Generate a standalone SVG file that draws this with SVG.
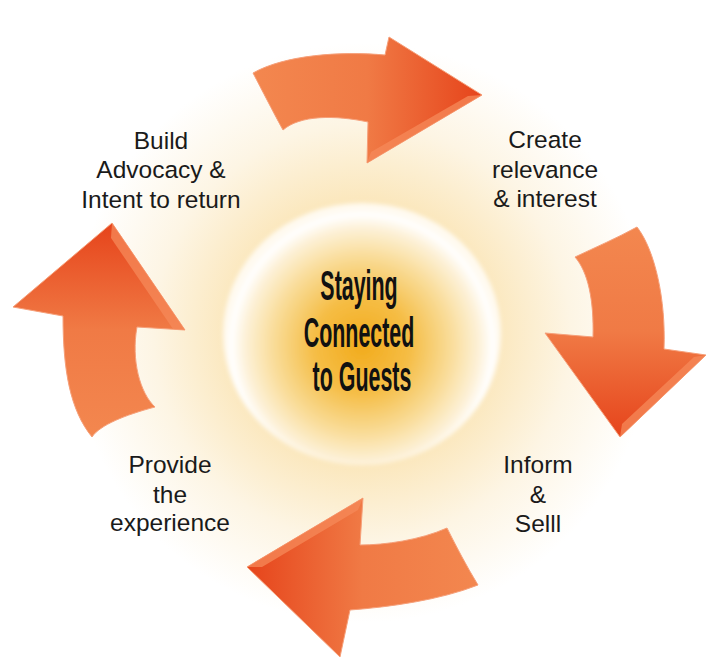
<svg xmlns="http://www.w3.org/2000/svg" width="708" height="660" viewBox="0 0 708 660">
  <defs>
    <radialGradient id="glow" cx="362" cy="333" r="290" gradientUnits="userSpaceOnUse">
      <stop offset="0" stop-color="#f9dc9a"/>
      <stop offset="0.45" stop-color="#fbe7bc"/>
      <stop offset="0.72" stop-color="#fdf5e4"/>
      <stop offset="1" stop-color="#ffffff"/>
    </radialGradient>
    <radialGradient id="core" cx="362" cy="345" r="136" gradientUnits="userSpaceOnUse">
      <stop offset="0" stop-color="#f2ab1c"/>
      <stop offset="0.35" stop-color="#f5bd45"/>
      <stop offset="0.65" stop-color="#f9dc98"/>
      <stop offset="0.86" stop-color="#fdf1d8"/>
      <stop offset="0.96" stop-color="#ffffff"/>
      <stop offset="1" stop-color="#fffaf0"/>
    </radialGradient>
    <filter id="soft" x="-10%" y="-10%" width="120%" height="120%">
      <feGaussianBlur stdDeviation="2"/>
    </filter>
    <linearGradient id="gRight" x1="0" y1="0" x2="1" y2="0">
      <stop offset="0" stop-color="#f3874f"/>
      <stop offset="0.5" stop-color="#f07a45"/>
      <stop offset="1" stop-color="#e6441b"/>
    </linearGradient>
    <linearGradient id="gDown" x1="0" y1="0" x2="0" y2="1">
      <stop offset="0" stop-color="#f3874f"/>
      <stop offset="0.5" stop-color="#f07a45"/>
      <stop offset="1" stop-color="#e6441b"/>
    </linearGradient>
    <linearGradient id="gLeft" x1="1" y1="0" x2="0" y2="0">
      <stop offset="0" stop-color="#f3874f"/>
      <stop offset="0.5" stop-color="#f07a45"/>
      <stop offset="1" stop-color="#e6441b"/>
    </linearGradient>
    <linearGradient id="gUp" x1="0" y1="1" x2="0" y2="0">
      <stop offset="0" stop-color="#f3874f"/>
      <stop offset="0.5" stop-color="#f07a45"/>
      <stop offset="1" stop-color="#e6441b"/>
    </linearGradient>
    <style>
      .arrow { stroke: #f6a07a; stroke-width: 1; stroke-linejoin: round; }
      .bevel { fill: #f58a5a; opacity: 0.75; }
      .label { font-family: "Liberation Sans", Arial, sans-serif; font-size: 24.5px; fill: #1a1a1a; text-anchor: middle; }
      .hub { font-family: "Liberation Sans", Arial, sans-serif; font-weight: bold; font-size: 34px; fill: #111111; text-anchor: middle; }
    </style>
  </defs>

  <!-- warm halo behind everything -->
  <rect width="708" height="660" fill="url(#glow)"/>

  <!-- central hub -->
  <g id="hub">
    <ellipse cx="362" cy="334" rx="139" ry="131" fill="url(#core)" filter="url(#soft)"/>
    <!-- narrow, tall lettering: squeeze horizontally, stretch vertically -->
    <text class="hub" transform="translate(362,0) scale(0.63,1.25)">
      <tspan x="0" y="240">Staying</tspan>
      <tspan x="0" y="277.6">Connected</tspan>
      <tspan x="0" y="313">to Guests</tspan>
    </text>
  </g>

  <!-- cycle arrows -->
  <g id="connectors">
    <g id="arrow-top">
      <path class="arrow" fill="url(#gRight)" d="M253,73 C285,55 340,51 385,55 L389,37 L482,95 L367,163 L368,122 C335,115 300,115 283,130 C272,110 262,90 253,73 Z"/>
      <path class="bevel" d="M482,95 L367,163 L371,152 L468,96 Z"/>
    </g>
    <g id="arrow-right">
      <path class="arrow" fill="url(#gDown)" d="M575,257 C596,247 617,238 637,227 C655,250 666,300 664,349 L706,355 L620,437 L545,333 L593,337 C594,300 588,272 575,257 Z"/>
      <path class="bevel" d="M706,355 L620,437 L622,424 L694,357 Z"/>
    </g>
    <g id="arrow-bottom">
      <path class="arrow" fill="url(#gLeft)" d="M447,528 C420,540 385,545 360,545 L363,498 L247,567 L340,657 L350,610 C390,607 440,600 478,585 C467,567 456,546 447,528 Z"/>
      <path class="bevel" d="M363,498 L247,567 L262,567 L358,510 Z"/>
    </g>
    <g id="arrow-left">
      <path class="arrow" fill="url(#gUp)" d="M155,407 C125,415 100,425 92,437 C70,410 63,370 63,316 L13,307 L112,223 L185,330 L137,327 C131,360 140,393 155,407 Z"/>
      <path class="bevel" d="M112,223 L185,330 L173,329 L111,238 Z"/>
    </g>
  </g>

  <!-- stage labels -->
  <g id="stage-advocacy">
    <text class="label"><tspan x="161" y="149">Build</tspan><tspan x="161" y="178">Advocacy &amp;</tspan><tspan x="161" y="208">Intent to return</tspan></text>
  </g>
  <g id="stage-relevance">
    <text class="label"><tspan x="545" y="148">Create</tspan><tspan x="545" y="178">relevance</tspan><tspan x="545" y="207">&amp; interest</tspan></text>
  </g>
  <g id="stage-inform">
    <text class="label"><tspan x="538" y="473">Inform</tspan><tspan x="538" y="503">&amp;</tspan><tspan x="538" y="532">Selll</tspan></text>
  </g>
  <g id="stage-experience">
    <text class="label"><tspan x="170" y="473">Provide</tspan><tspan x="170" y="503">the</tspan><tspan x="170" y="531">experience</tspan></text>
  </g>
</svg>
